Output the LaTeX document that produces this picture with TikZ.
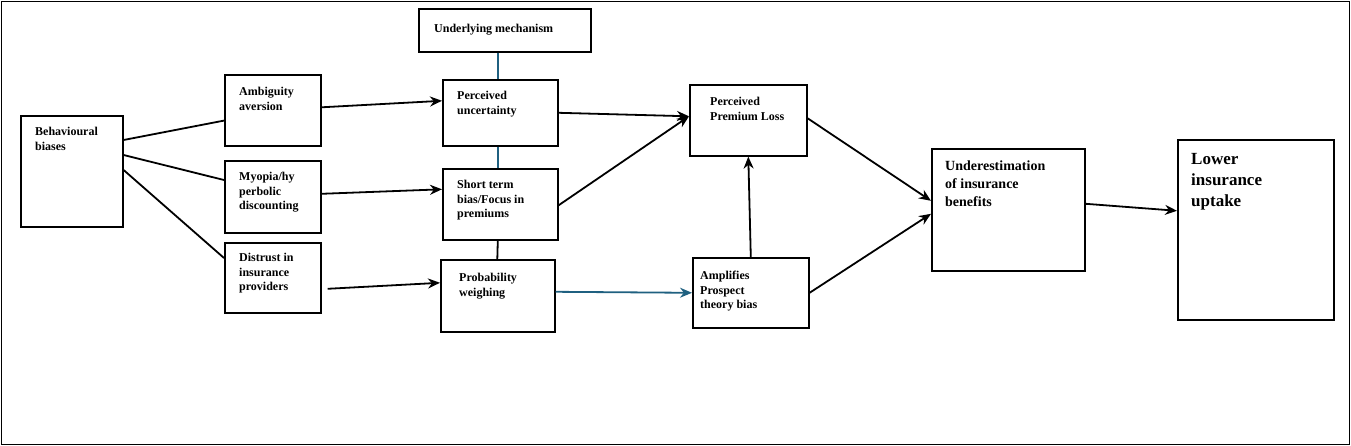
\documentclass[tikz,border=0pt]{standalone}
\usepackage{fontspec}
\usetikzlibrary{arrows.meta}
\setmainfont{Liberation Serif}
\begin{document}
\begin{tikzpicture}[x=1pt,y=-1pt,
 box/.style={draw,line width=1.6pt,anchor=north west,inner sep=0pt},
 txt/.style={anchor=north west,align=left,font=\fontsize{12}{14.5}\selectfont\bfseries,inner sep=0pt},
 ln/.style={line width=1.8pt},
 ar/.style={ln,-{Stealth[length=12pt,width=10pt]}},
 bl/.style={draw={rgb,255:red,31;green,96;blue,128}}]
\useasboundingbox (0,0) rectangle (1351,446);
\draw[line width=0.8pt] (1,1) rectangle (1349,444);
\newcommand\bx[6]{\node[box,minimum width=#4-#2,minimum height=#5-#3] (#1) at (#2,#3) {};}
\bx{bb}{20}{115}{122}{226}{}
\bx{aa}{224}{74}{320}{145}{}
\bx{my}{224}{160}{320}{232}{}
\bx{di}{224}{242}{320}{312}{}
\bx{um}{418}{8}{590}{51}{}
\bx{pu}{442}{79}{557}{145}{}
\bx{st}{442}{168}{557}{239}{}
\bx{pw}{440}{259}{554}{331}{}
\bx{pl}{689}{84}{806}{155}{}
\bx{am}{692}{257}{808}{327}{}
\bx{ue}{931}{148}{1084}{270}{}
\bx{lu}{1177}{139}{1333}{319}{}
\node[txt] (tbb) at (35,127) {Behavioural\\biases};
\node[txt] (taa) at (239,87) {Ambiguity\\aversion};
\node[txt] (tmy) at (239,172) {Myopia/hy\\perbolic\\discounting};
\node[txt] (tdi) at (239,253) {Distrust in\\insurance\\providers};
\node[txt] (tum) at (434,24) {Underlying mechanism};
\node[txt] (tpu) at (457,91) {Perceived\\uncertainty};
\node[txt] (tst) at (457,180) {Short term\\bias/Focus in\\premiums};
\node[txt] (tpw) at (459,273) {Probability\\weighing};
\node[txt] (tpl) at (710,97) {Perceived\\Premium Loss};
\node[txt] (tam) at (700,271) {Amplifies\\Prospect\\theory bias};
\node[txt,font=\fontsize{14}{18}\selectfont\bfseries] (tue) at (945,161) {Underestimation\\of insurance\\benefits};
\node[txt,font=\fontsize{17}{21}\selectfont\bfseries] (tlu) at (1191,153) {Lower\\insurance\\uptake};
\draw[ln] ([yshift=-25]bb.north east) -- ([yshift=26]aa.south west);
\draw[ln] ([yshift=-40]bb.north east) -- ([yshift=-20]my.north west);
\draw[ln] ([yshift=-55]bb.north east) -- ([yshift=-16]di.north west);
\draw[ar] ([yshift=3]aa.east) -- ([yshift=12]pu.west);
\draw[ar] ([yshift=3]my.east) -- ([yshift=15]st.west);
\draw[ar] ([xshift=6,yshift=-11]di.east) -- ([yshift=13]pw.west);
\draw[ar] ([yshift=0]pu.east) -- ([yshift=4]pl.west);
\draw[ar] ([yshift=-1]st.east) -- ([yshift=4]pl.west);
\draw[ar,bl] ([yshift=4]pw.east) -- ([yshift=0]am.west);
\draw[ar] (am.north) -- (pl.south);
\draw[ar] ([yshift=2]pl.east) -- ([yshift=9]ue.west);
\draw[ar] ([yshift=0]am.east) -- ([yshift=-4]ue.west);
\draw[ar] ([yshift=6]ue.east) -- ([yshift=19]lu.west);
\draw[ln,bl] ([xshift=-7]um.south) -- ([xshift=-2.5]pu.north);
\draw[ln,bl] ([xshift=-2.5]pu.south) -- ([xshift=-2.5]st.north);
\draw[ln] ([xshift=-2.5]st.south) -- ([xshift=-0.5]pw.north);
\end{tikzpicture}
\end{document}
